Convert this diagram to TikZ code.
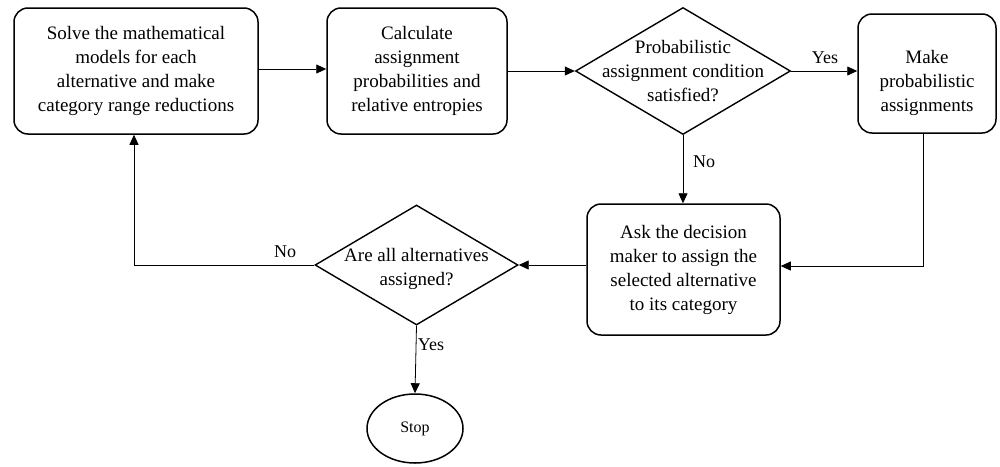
\documentclass[tikz,border=0pt]{standalone}
\usepackage{fontspec}
\setmainfont{Liberation Serif}
\usetikzlibrary{shapes.geometric,arrows.meta}
\begin{document}
\begin{tikzpicture}[x=1pt,y=-1pt,
  stepbox/.style={draw,line width=1.5pt,rounded corners=14pt,inner sep=0pt},
  decis/.style={draw,line width=1.4pt,diamond,inner sep=0pt},
  txt/.style={align=center,font=\fontsize{19}{24}\selectfont,inner sep=0pt},
  lbl/.style={font=\fontsize{18}{22}\selectfont,inner sep=0pt},
  conn/.style={line width=0.8pt,-{Triangle[length=10pt,width=9pt]}},
  plain/.style={line width=0.8pt}]
\useasboundingbox (0,0) rectangle (1000,466);

\node[stepbox,minimum width=244pt,minimum height=126pt] (b1) at (136,71) {};
\node[txt] (b1t) at (b1.center) {Solve the mathematical\\models for each\\alternative and make\\category range reductions};

\node[stepbox,minimum width=180pt,minimum height=126pt] (b2) at (417,71) {};
\node[txt] (b2t) at (b2.center) {Calculate\\assignment\\probabilities and\\relative entropies};

\node[decis,minimum width=215pt,minimum height=127pt] (d1) at (683,71) {};
\node[txt] (d1t) at (d1.center) {Probabilistic\\assignment condition\\satisfied?};

\node[stepbox,minimum width=138pt,minimum height=119pt] (b4) at (927,73.5) {};
\node[txt] (b4t) at ([yshift=-9pt]b4.center) {Make\\probabilistic\\assignments};

\node[stepbox,minimum width=193pt,minimum height=131pt] (b5) at (683.5,269.5) {};
\node[txt] (b5t) at (b5.center) {Ask the decision\\maker to assign the\\selected alternative\\to its category};

\node[decis,minimum width=203pt,minimum height=120pt] (d2) at (416.5,265) {};
\node[txt] (d2t) at ([yshift=-4pt]d2.center) {Are all alternatives\\assigned?};

\node[draw,line width=1.5pt,ellipse,minimum width=96pt,minimum height=69pt,inner sep=0pt,font=\fontsize{16}{20}\selectfont] (stop) at (415,428.5) {Stop};

\draw[conn] (b1.east |- 0,69) -- (b2.west |- 0,69);
\draw[conn] (b2.east |- d1.west) -- (d1.west);
\draw[conn] (d1.east) -- (b4.west |- d1.east);
\draw[conn] (d1.south) -- (b5.north -| d1.south);
\draw[conn] (b4.south -| 923,0) |- (b5.east |- 0,266);
\draw[conn] (b5.west |- d2.east) -- (d2.east);
\draw[conn] (d2.west) -| (b1.south -| 134,0);
\draw[conn] (d2.south) -- (stop.north);

\node[lbl] (lyes1) at (825,58) {Yes};
\node[lbl] (lno1) at (704,162) {No};
\node[lbl] (lno2) at (285,252) {No};
\node[lbl] (lyes2) at (431,345) {Yes};
\end{tikzpicture}
\end{document}
